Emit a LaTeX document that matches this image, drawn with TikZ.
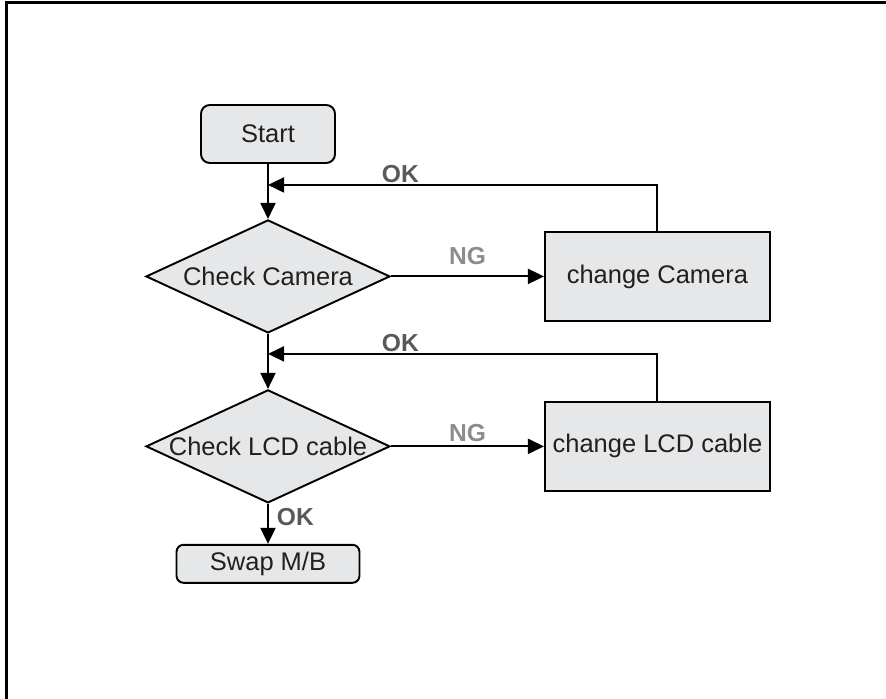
\documentclass[tikz,border=0pt]{standalone}
\usepackage{fontspec}
\setmainfont{Liberation Sans}
\usetikzlibrary{shapes.geometric, arrows.meta, positioning}

\definecolor{boxgray}{HTML}{E6E7E8}
\definecolor{inkgray}{HTML}{231F20}
\definecolor{okgray}{HTML}{58595B}
\definecolor{nggray}{HTML}{8A8C8E}

\begin{document}
\begin{tikzpicture}[
  node distance=1.1cm and 3.06cm,
  every node/.style={font=\fontsize{14.5}{17}\selectfont, text=inkgray},
  startbox/.style={rectangle, draw, rounded corners=5pt, fill=boxgray, line width=1.1pt, inner sep=0pt, minimum width=2.68cm, minimum height=1.16cm},
  check/.style={diamond, draw, fill=boxgray, line width=1.1pt, inner sep=0pt, aspect=2.15, minimum width=4.88cm, minimum height=2.26cm},
  fixbox/.style={rectangle, draw, fill=boxgray, line width=1.1pt, inner sep=0pt, minimum width=4.5cm, minimum height=1.78cm},
  arrow/.style={-{Triangle[length=3.2mm, width=3mm]}, line width=1.1pt},
  oklabel/.style={font=\fontsize{14}{16}\selectfont\bfseries, text=okgray, inner sep=0.5pt},
  nglabel/.style={font=\fontsize{14}{16}\selectfont\bfseries, text=nggray, inner sep=2pt}
]

  \useasboundingbox (0,0) rectangle (17.72,-13.98);
  \draw[line width=1.7pt] (0.13,-13.98) -- (0.13,-0.05) -- (17.72,-0.05);

  \node[startbox] (start) at (5.36,-2.68) {Start};

  \node[check, below=of start] (camera) {Check Camera};
  \node[fixbox, right=of camera] (chcam) {change Camera};

  \node[check, below=of camera] (lcd) {Check LCD cable};
  \node[fixbox, right=of lcd] (chlcd) {change LCD cable};

  \node[startbox, below=0.8cm of lcd, minimum width=3.66cm, minimum height=0.76cm, rounded corners=4pt] (swap) {Swap M/B};

  \coordinate[below=0.42cm of start] (ok1);
  \coordinate[below=0.4cm of camera.south] (ok2);

  \draw[arrow] (start) -- (camera);
  \draw[arrow] (camera) -- (lcd);
  \draw[arrow] (camera) -- node[above=4pt, nglabel] {NG} (chcam);
  \draw[arrow] (lcd) -- node[above=0pt, nglabel] {NG} (chlcd);
  \draw[arrow] (chcam.north) |- node[pos=0.83, above, oklabel] {OK} (ok1);
  \draw[arrow] (chlcd.north) |- node[pos=0.83, above, oklabel] {OK} (ok2);
  \draw[arrow] (lcd) -- node[pos=0.33, right=4pt, oklabel] {OK} (swap);

\end{tikzpicture}
\end{document}
